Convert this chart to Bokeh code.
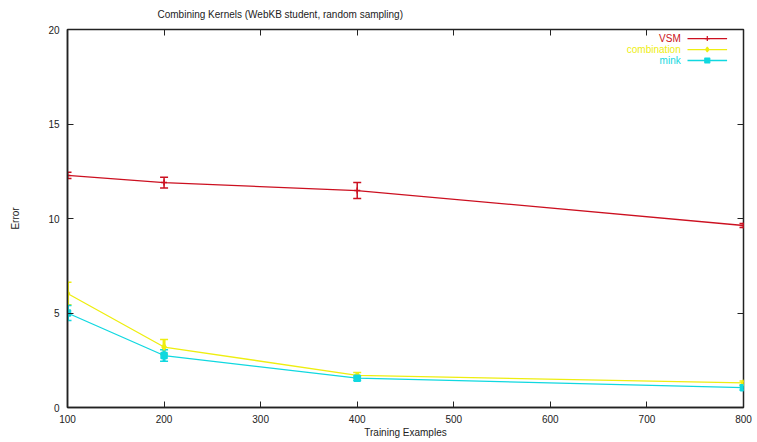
from bokeh.plotting import figure
from bokeh.models import (ColumnDataSource, Whisker, TeeHead, LinearAxis, FixedTicker,
                          Range1d, Title)
from bokeh.embed import file_html
from bokeh.resources import INLINE

# ---- data ----
training = [100, 200, 400, 800]
vsm = [12.28, 11.9, 11.48, 9.63]
vsm_err = [0.17, 0.28, 0.42, 0.1]
combination = [6.03, 3.2, 1.7, 1.3]
combination_err = [0.6, 0.4, 0.15, 0.1]
mink = [5.0, 2.75, 1.55, 1.05]
mink_err = [0.4, 0.3, 0.12, 0.12]

x_ticks = [100, 200, 300, 400, 500, 600, 700, 800]
y_ticks = [0, 5, 10, 15, 20]

series = [
    ("VSM", vsm, vsm_err, "#cc1020", "cross"),
    ("combination", combination, combination_err, "#eeee10", "diamond"),
    ("mink", mink, mink_err, "#10d8e0", "square"),
]

FONT = "Liberation Sans"

p = figure(width=752, height=440, output_backend="svg", toolbar_location=None,
           x_range=Range1d(100, 800), y_range=Range1d(0, 20),
           min_border_left=67, min_border_right=9, min_border_top=29,
           min_border_bottom=33, background_fill_color="white",
           border_fill_color="white")
p.title = Title(text="Combining Kernels (WebKB student, random sampling)",
                align="left", offset=90, text_font=FONT, text_font_size="10px",
                text_font_style="normal", text_color="#222222", standoff=11)
p.grid.visible = False
p.outline_line_color = "#222222"
p.outline_line_width = 1.5

for ax in (p.xaxis[0], p.yaxis[0]):
    ax.major_tick_in = 6
    ax.major_tick_out = 0
    ax.minor_tick_line_color = None
    ax.axis_line_color = "#222222"
    ax.axis_line_width = 1.5
    ax.major_tick_line_color = "#222222"
    ax.major_label_text_font = FONT
    ax.major_label_text_font_size = "10px"
    ax.major_label_text_color = "#222222"
    ax.axis_label_text_font = FONT
    ax.axis_label_text_font_size = "10px"
    ax.axis_label_text_font_style = "normal"
    ax.axis_label_text_color = "#222222"
p.xaxis[0].ticker = FixedTicker(ticks=x_ticks)
p.yaxis[0].ticker = FixedTicker(ticks=y_ticks)
p.xaxis[0].axis_label = "Training Examples"
p.yaxis[0].axis_label = "Error"
p.xaxis[0].major_label_standoff = 7
p.xaxis[0].axis_label_standoff = 1
p.yaxis[0].major_label_standoff = 8
p.yaxis[0].axis_label_standoff = 24

# mirrored ticks on top and right (no labels)
top = LinearAxis(ticker=FixedTicker(ticks=x_ticks),
                 major_label_overrides={t: " " for t in x_ticks},
                 major_label_text_font_size="1px", major_label_standoff=0,
                 major_tick_in=6, major_tick_out=0, minor_tick_line_color=None,
                 axis_line_color=None, major_tick_line_color="#222222")
right = LinearAxis(ticker=FixedTicker(ticks=y_ticks),
                   major_label_overrides={t: " " for t in y_ticks},
                   major_label_text_font_size="1px", major_label_standoff=0,
                   major_tick_in=6, major_tick_out=0, minor_tick_line_color=None,
                   axis_line_color=None, major_tick_line_color="#222222")
p.add_layout(top, "above")
p.add_layout(right, "right")

for name, ys, errs, color, marker in series:
    src = ColumnDataSource(dict(x=training, y=ys,
                                lo=[a - b for a, b in zip(ys, errs)],
                                hi=[a + b for a, b in zip(ys, errs)]))
    p.line("x", "y", source=src, line_color=color, line_width=1.3)
    w = Whisker(base="x", lower="lo", upper="hi", source=src, line_color=color,
                line_width=1.5 if name == "VSM" else 3,
                upper_head=TeeHead(size=8, line_color=color, line_width=1.5),
                lower_head=TeeHead(size=8, line_color=color, line_width=1.5))
    p.add_layout(w)
    p.scatter("x", "y", source=src, marker=marker, size=6, line_color=color,
              fill_color=color, line_width=1.5)

# legend (top right, label before sample as in the original)
leg_y = [19.52, 18.94, 18.36]
leg_text_x = 735
leg_line = [742, 783]
for (name, ys, errs, color, marker), ly in zip(series, leg_y):
    p.text(x=[leg_text_x], y=[ly], text=[name], text_align="right",
           text_baseline="middle", text_font_size="10px", text_color=color,
           text_font={"value": FONT})
    p.line(x=leg_line, y=[ly, ly], line_color=color, line_width=1.3)
    p.scatter(x=[(leg_line[0] + leg_line[1]) / 2], y=[ly], marker=marker, size=5,
              line_color=color, fill_color=color, line_width=1.2)

open("out.html", "w").write(file_html(p, INLINE))
